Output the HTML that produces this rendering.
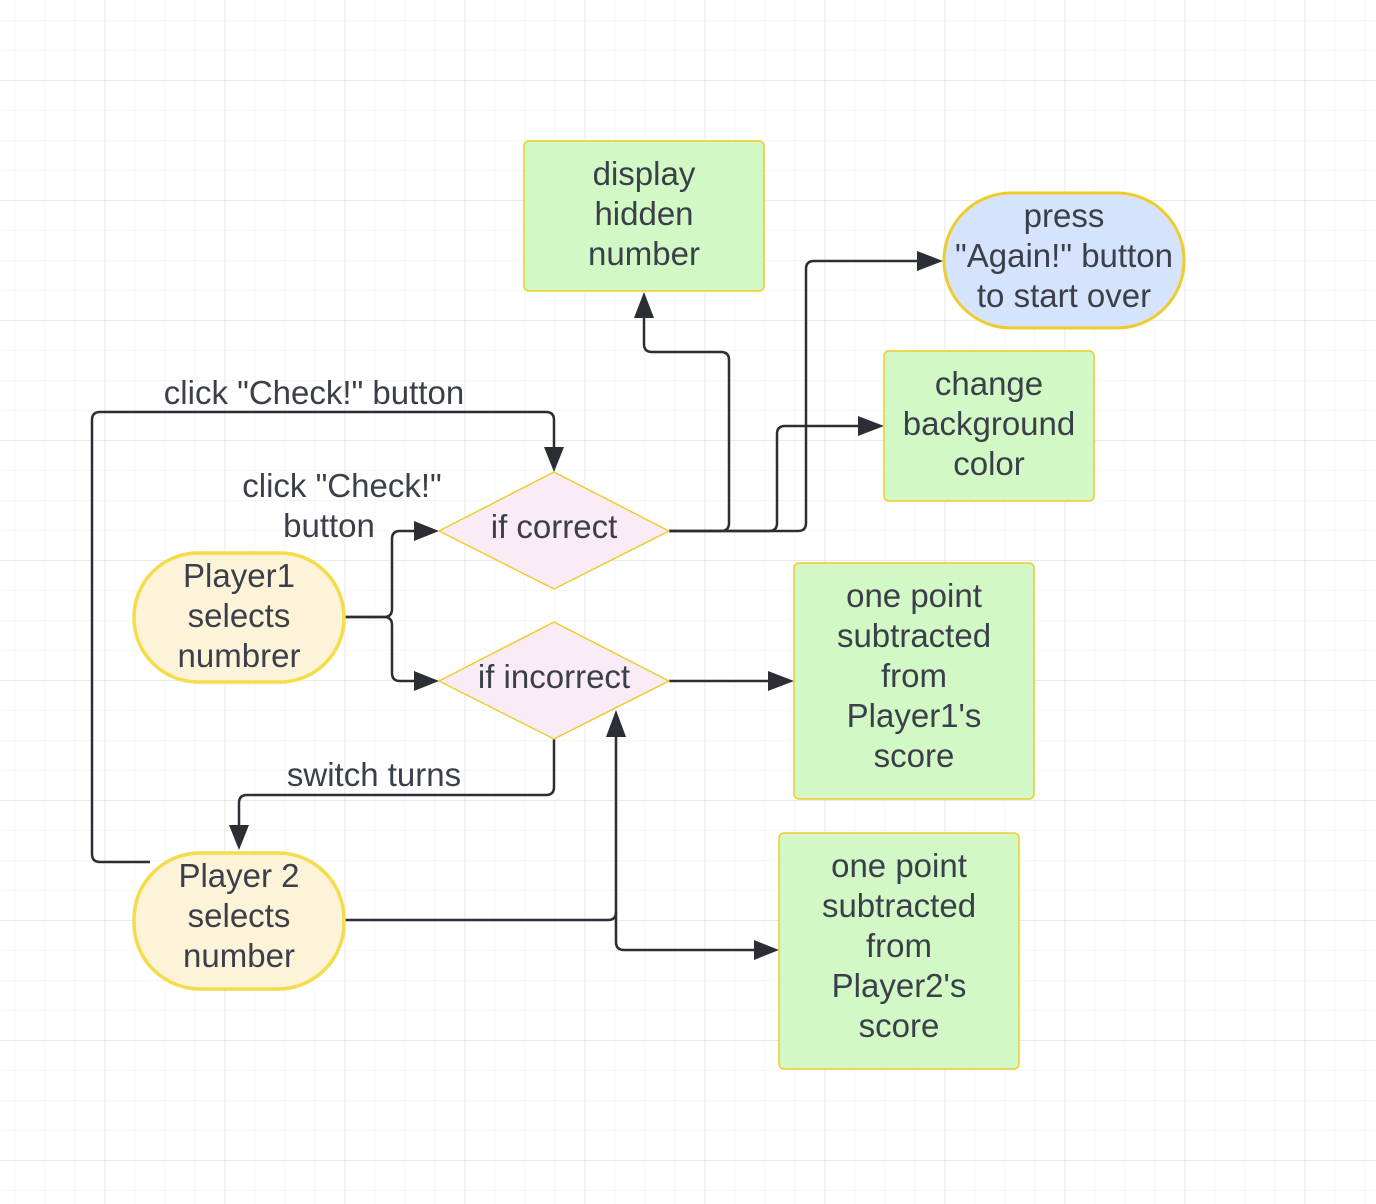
<!DOCTYPE html>
<html><head><style>
html,body{margin:0;padding:0;background:#fff;}
svg{display:block;}
text{font-family:"Liberation Sans",Arial,sans-serif;font-size:33px;fill:#3a3f4a;text-anchor:middle;}
</style></head><body>
<svg width="1376" height="1204" viewBox="0 0 1376 1204" xmlns="http://www.w3.org/2000/svg">
<defs>
<pattern id="minor" x="14.6" y="20" width="30" height="30" patternUnits="userSpaceOnUse">
<path d="M0 0V30M0 0H30" stroke="#ececec" stroke-width="1" fill="none"/>
</pattern>
<pattern id="major" x="104.6" y="80" width="120" height="120" patternUnits="userSpaceOnUse">
<path d="M0 0V120M0 0H120" stroke="#dcdcdc" stroke-width="1.2" fill="none"/>
</pattern>
</defs>
<rect width="1376" height="1204" fill="url(#minor)"/>
<rect width="1376" height="1204" fill="url(#major)"/>

<g fill="none" stroke="#2b2e35" stroke-width="2.5" stroke-linejoin="round">
<path d="M345 617H384Q392 617 392 609V539Q392 531 400 531H415"/>
<path d="M345 617H384Q392 617 392 625V673Q392 681 400 681H415"/>
<path d="M150 862H100Q92 862 92 854V420Q92 412 100 412H546Q554 412 554 420V448"/>
<path d="M669 531H721Q729 531 729 523V360Q729 352 721 352H652Q644 352 644 344V318"/>
<path d="M669 531H769Q777 531 777 523V434Q777 426 785 426H860"/>
<path d="M669 531H798Q806 531 806 523V269Q806 261 814 261H918"/>
<path d="M669 681H770"/>
<path d="M554 739V787Q554 795 546 795H247Q239 795 239 803V826"/>
<path d="M345 920H608Q616 920 616 912V735"/>
<path d="M616 912V942Q616 950 624 950H755"/>
</g>
<g fill="#2b2e35">
<polygon points="439,531 414,521 414,541"/>
<polygon points="439,681 414,671 414,691"/>
<polygon points="554,472 544,447 564,447"/>
<polygon points="644,292 634,318 654,318"/>
<polygon points="884,426 858,416 858,436"/>
<polygon points="943,261 917,251 917,271"/>
<polygon points="794,681 768,671 768,691"/>
<polygon points="239,850 229,825 249,825"/>
<polygon points="616,710 606,737 626,737"/>
<polygon points="779,950 754,940 754,960"/>
</g>

<path d="M439 531L554 472L669 531L554 589Z" fill="#f9ecf7" stroke="#f0cb2c" stroke-width="1.5" stroke-linejoin="round"/>
<path d="M439 681L554 622L669 681L554 739Z" fill="#f9ecf7" stroke="#f0cb2c" stroke-width="1.5" stroke-linejoin="round"/>
<text x="554" y="538">if correct</text>
<text x="554" y="688">if incorrect</text>

<g fill="#d2f8c5" stroke="#f0cb2c" stroke-width="1.5">
<rect x="524" y="141" width="240" height="150" rx="5"/>
<rect x="884" y="351" width="210" height="150" rx="5"/>
<rect x="794" y="563" width="240" height="236" rx="5"/>
<rect x="779" y="833" width="240" height="236" rx="5"/>
</g>
<rect x="944" y="193" width="240" height="135" rx="67" fill="#d5e4fc" stroke="#f0cb2c" stroke-width="3"/>
<rect x="134" y="553" width="210" height="129" rx="64" fill="#fdf3d8" stroke="#f4dc4a" stroke-width="3.5"/>
<rect x="134" y="853" width="210" height="136" rx="66" fill="#fdf3d8" stroke="#f4dc4a" stroke-width="3.5"/>

<text x="644" y="185">display</text><text x="644" y="225">hidden</text><text x="644" y="265">number</text>
<text x="1064" y="227">press</text><text x="1064" y="267">"Again!" button</text><text x="1064" y="307">to start over</text>
<text x="989" y="395">change</text><text x="989" y="435">background</text><text x="989" y="475">color</text>
<text x="914" y="607">one point</text><text x="914" y="647">subtracted</text><text x="914" y="687">from</text><text x="914" y="727">Player1's</text><text x="914" y="767">score</text>
<text x="899" y="877">one point</text><text x="899" y="917">subtracted</text><text x="899" y="957">from</text><text x="899" y="997">Player2's</text><text x="899" y="1037">score</text>
<text x="239" y="587">Player1</text><text x="239" y="627">selects</text><text x="239" y="667">numbrer</text>
<text x="239" y="887">Player 2</text><text x="239" y="927">selects</text><text x="239" y="967">number</text>

<text x="314" y="404">click "Check!" button</text>
<text x="342" y="497">click "Check!"</text>
<text x="329" y="537">button</text>
<text x="374" y="786">switch turns</text>
</svg>
</body></html>
